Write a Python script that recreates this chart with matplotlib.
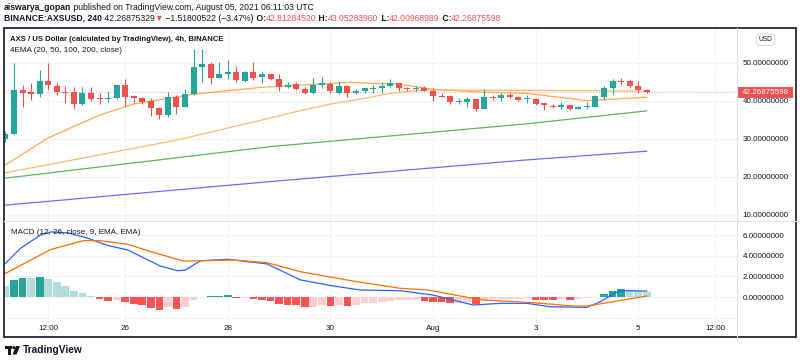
import numpy as np
import matplotlib
matplotlib.use('Agg')
import matplotlib.pyplot as plt
import matplotlib.transforms as mtransforms
from matplotlib.patches import Rectangle, Circle, Polygon

plt.rcParams['font.family'] = ['Liberation Sans', 'DejaVu Sans']

# 4h candles, 23 Jul 16:00 -> 5 Aug 04:00
opens = [30.0, 31.3, 42.8, 42.3, 41.8, 45.3, 44.0, 42.4, 42.3, 39.1,
         42.1, 40.8, 40.4, 40.9, 44.1, 41.3, 40.9, 40.1, 38.1, 36.3,
         41.1, 38.5, 41.8, 49.0, 49.7, 46.1, 47.0, 47.6, 45.3, 47.5,
         46.2, 47.1, 45.8, 43.6, 44.4, 43.2, 42.0, 44.2, 44.5, 42.2,
         43.9, 42.0, 42.6, 43.2, 43.5, 44.0, 44.7, 43.5, 43.2, 43.5,
         42.7, 41.4, 41.3, 39.7, 39.8, 40.5, 37.9, 41.1, 40.9, 41.6,
         41.1, 40.4, 40.4, 39.4, 38.8, 38.3, 38.9, 37.9, 38.5, 38.5,
         41.1, 43.5, 45.3, 45.3, 43.9, 42.81284520]
highs = [32.1, 49.9, 44.2, 44.7, 48.2, 49.9, 44.7, 43.9, 43.6, 43.6,
         43.6, 42.0, 42.7, 44.6, 45.7, 41.6, 41.1, 40.7, 38.5, 42.4,
         41.5, 43.1, 53.6, 53.6, 50.2, 50.3, 50.8, 49.2, 48.0, 50.3,
         47.5, 47.3, 47.1, 44.9, 44.9, 43.6, 46.0, 46.4, 45.0, 45.2,
         44.3, 43.1, 43.5, 44.3, 45.0, 45.9, 44.8, 43.6, 44.0, 44.0,
         43.3, 42.0, 41.6, 40.7, 41.1, 40.7, 43.1, 41.6, 42.2, 42.2,
         41.3, 41.5, 40.7, 39.6, 39.2, 39.7, 38.9, 38.6, 39.7, 41.6,
         44.0, 45.8, 46.1, 45.5, 45.3, 43.05283960]
lows = [29.2, 31.0, 38.5, 40.3, 41.1, 42.9, 41.6, 39.4, 37.8, 38.9,
        40.1, 39.1, 39.8, 40.4, 38.7, 39.4, 39.3, 36.1, 35.2, 35.9,
        36.5, 38.5, 41.6, 45.1, 44.4, 46.0, 45.7, 45.1, 45.0, 45.5,
        44.8, 45.5, 42.5, 43.5, 42.9, 41.8, 41.8, 43.3, 42.0, 41.8,
        41.1, 41.8, 42.0, 42.0, 42.0, 43.7, 42.5, 42.5, 42.5, 42.7,
        40.1, 41.0, 39.2, 39.3, 38.5, 37.4, 37.9, 40.2, 40.0, 40.8,
        40.1, 39.6, 39.0, 37.6, 38.2, 37.9, 37.5, 37.8, 37.9, 38.5,
        40.3, 41.8, 44.2, 43.5, 42.2, 42.00968989]
closes = [31.3, 42.9, 42.2, 41.8, 45.3, 44.1, 42.4, 42.1, 39.1, 42.0,
          40.6, 40.4, 40.9, 44.1, 41.1, 40.9, 39.8, 38.1, 36.3, 41.1,
          38.5, 41.8, 49.0, 49.7, 46.1, 47.1, 47.7, 45.5, 47.5, 46.1,
          47.1, 45.8, 43.8, 44.3, 43.1, 42.2, 44.2, 44.7, 42.5, 43.9,
          42.2, 42.6, 43.3, 43.5, 44.0, 44.7, 43.5, 43.2, 43.5, 42.7,
          41.3, 41.1, 39.8, 40.0, 40.6, 37.9, 41.1, 40.8, 41.6, 41.1,
          40.3, 40.7, 39.2, 38.9, 38.3, 38.9, 37.8, 38.5, 38.8, 41.3,
          43.3, 45.3, 45.0, 43.9, 42.9, 42.26875598]

# EMA lines (bar index, value)
ema20_idx = [0, 5, 11, 15, 22, 30, 40, 46, 50, 55, 61, 68, 75]
ema20_val = [23.2, 30.3, 36.3, 39.2, 41.8, 43.6, 44.9, 44.4, 43.1, 42.4, 42.0, 40.1, 41.0]
ema50_idx = [0, 20, 30, 34, 38, 42, 45, 49, 61, 75]
ema50_val = [21.1, 29.7, 35.0, 37.2, 39.2, 40.7, 42.0, 42.9, 42.8, 42.6]
ema100_idx = [0, 31, 61, 75]
ema100_val = [19.7, 28.0, 34.0, 37.4]
ema200_idx = [0, 31, 61, 75]
ema200_val = [12.6, 18.8, 24.5, 26.8]

# MACD
macd_idx = [0, 1.75, 4.1, 5.3, 7.3, 9.6, 11.9, 14.3, 18.1, 20.1, 21, 22.8, 26,
            30.6, 34.5, 38.4, 41.5, 46.2, 50, 54.7, 57.9, 61, 63.7, 68, 69.6,
            71.6, 72.7, 75]
macd_val = [3.26, 4.71, 6.0, 6.3, 6.2, 5.7, 5.0, 4.55, 3.0, 2.55, 2.6, 3.5, 3.65,
            3.2, 1.65, 1.06, 0.68, 0.61, 0.19, -0.77, -0.61, -0.61, -0.94, -1.0,
            -0.45, 0.52, 0.61, 0.58]
signal_idx = [0, 5.3, 9.1, 11.1, 14.3, 17, 20.8, 26.7, 30.6, 34.5, 40.4, 46.2,
              49.4, 53.2, 55.9, 61.8, 66.4, 68, 71.1, 75]
signal_val = [2.29, 4.6, 5.45, 5.45, 5.1, 4.39, 3.48, 3.58, 3.32, 2.45, 1.58, 0.84,
              0.68, 0.1, -0.29, -0.55, -0.87, -0.87, -0.45, 0.1]
hist = [1.03, 1.61, 1.87, 1.81, 1.97, 1.77, 1.45, 1.06, 0.58, 0.35,
        0.06, -0.19, -0.39, -0.32, -0.52, -0.65, -0.81, -1.06, -1.29, -0.97,
        -1.16, -0.97, -0.32, 0.05, 0.07, 0.14, 0.16, -0.10, -0.08, -0.23,
        -0.26, -0.42, -0.65, -0.74, -0.81, -0.97, -0.95, -0.81, -0.87, -0.80,
        -0.84, -0.74, -0.60, -0.55, -0.45, -0.39, -0.32, -0.31, -0.30, -0.39,
        -0.45, -0.52, -0.60, -0.55, -0.50, -0.71, -0.25, -0.22, -0.20, -0.18,
        -0.15, -0.13, -0.26, -0.27, -0.28, -0.20, -0.26, -0.15, -0.08, 0.03,
        0.32, 0.61, 0.74, 0.71, 0.61, 0.48]

time_pos = [5, 14, 26, 38, 50, 62, 74, 83]
time_labels = ['12:00', '26', '28', '30', 'Aug', '3', '5', '12:00']
price_ticks = [10, 20, 30, 40, 50]
macd_ticks = [-2, 0, 2, 4, 6]

UP, DOWN = '#26A69A', '#EF5350'
TXT = '#131722'
GRID = '#F0F3FA'

W, H = 800, 362
fig = plt.figure(figsize=(8, 3.62), dpi=100)


def frac(x0, y0, x1, y1):
    return [x0 / W, 1 - y1 / H, (x1 - x0) / W, (y1 - y0) / H]


ax = fig.add_axes(frac(4, 28, 737, 221))
ax2 = fig.add_axes(frac(4, 221, 737, 321), sharex=ax)

# candles
idx = np.arange(len(closes))
o, hi, lo, c = map(np.array, (opens, highs, lows, closes))
cols = np.where(c >= o, UP, DOWN)
ax.vlines(idx, lo, hi, colors=cols, lw=0.8, zorder=3)
ax.bar(idx, np.maximum(np.abs(c - o), 0.3), bottom=np.minimum(o, c), width=0.7,
       color=cols, lw=0, zorder=4)

ax.plot(ema20_idx, ema20_val, color='#FFA94D', lw=0.9, zorder=2)
ax.plot(ema50_idx, ema50_val, color='#FFB870', lw=0.9, zorder=2)
ax.plot(ema100_idx, ema100_val, color='#5DB461', lw=0.9, zorder=2)
ax.plot(ema200_idx, ema200_val, color='#6E6EF5', lw=0.9, zorder=2)
ax.axhline(closes[-1], color=DOWN, lw=0.8, ls=(0, (1, 1.5)), alpha=0.45, zorder=1)

ax.set_xlim(-0.175, 85.56)
ax.set_ylim(8.42, 59.21)
ax.yaxis.tick_right()
ax.set_yticks(price_ticks)
ax.set_yticklabels([f'{v:.8f}' for v in price_ticks])
ax.tick_params(axis='y', length=0, pad=4, labelsize=5.8, labelcolor=TXT)
ax.tick_params(axis='x', length=0, labelbottom=False)
ax.grid(True, color=GRID, lw=0.8)
for s in ax.spines.values():
    s.set_visible(False)

ax.text(0.0082, 0.938, 'AXS / US Dollar (calculated by TradingView), 4h, BINANCE',
        transform=ax.transAxes, fontsize=5.6, fontweight='bold', color=TXT, va='center')
ax.text(0.0082, 0.886, '4EMA (20, 50, 100, 200, close)', transform=ax.transAxes,
        fontsize=5.9, color=TXT, va='center')

# last price tag
bt = mtransforms.blended_transform_factory(ax.transAxes, ax.transData)
ax.add_patch(Rectangle((1.0, closes[-1] - 1.45), 56 / 733, 2.9, transform=bt,
                       clip_on=False, color=DOWN, lw=0, zorder=5))
ax.text(1.0 + 28 / 733, closes[-1], f'{closes[-1]:.8f}', transform=bt, color='white',
        fontsize=5.8, ha='center', va='center', zorder=6)
ax.text(1.039, 0.94, 'USD', transform=ax.transAxes, fontsize=4.8, color=TXT,
        ha='center', va='center',
        bbox=dict(boxstyle='round,pad=0.35,rounding_size=0.6', fc='white', ec='#D1D4DC', lw=0.6))

# MACD pane
hist_a = np.array(hist)
prev = np.concatenate([[hist_a[0]], hist_a[:-1]])
hcols = np.where(hist_a >= 0,
                 np.where(hist_a > prev, '#26A69A', '#B2DFDB'),
                 np.where(hist_a < prev, '#FF5252', '#FFCDD2'))
ax2.bar(idx, hist_a, width=0.9, color=hcols, lw=0, zorder=2)
ax2.plot(macd_idx, macd_val, color='#2962FF', lw=0.9, zorder=3)
ax2.plot(signal_idx, signal_val, color='#FF6D00', lw=0.9, zorder=3)
ax2.set_ylim(-2.32, 7.355)
ax2.yaxis.tick_right()
ax2.set_yticks(macd_ticks)
ax2.set_yticklabels(['' if v < 0 else f'{v:.8f}' for v in macd_ticks])
ax2.tick_params(axis='y', length=0, pad=4, labelsize=5.8, labelcolor=TXT)
ax2.set_xticks(time_pos)
ax2.set_xticklabels(time_labels)
ax2.tick_params(axis='x', length=0, pad=3, labelsize=5.8, labelcolor=TXT)
ax2.grid(True, color=GRID, lw=0.8)
for s in ax2.spines.values():
    s.set_visible(False)
ax2.text(0.0095, 0.88, 'MACD (12, 26, close, 9, EMA, EMA)', transform=ax2.transAxes,
         fontsize=5.8, color=TXT, va='center')

# frame, separators, logo
ov = fig.add_axes([0, 0, 1, 1], zorder=10)
ov.set_xlim(0, W)
ov.set_ylim(H, 0)
ov.axis('off')
ov.patch.set_alpha(0)
ov.plot([737, 737], [28, 337], color='#E0E3EB', lw=0.8)
ov.plot([4, 796], [221, 221], color='#E0E3EB', lw=0.8)
ov.add_patch(Rectangle((4, 28), 792, 309, fill=False, ec=TXT, lw=1.2))
ov.add_patch(Rectangle((4.5, 346), 7, 3, color=TXT, lw=0))
ov.add_patch(Rectangle((8, 346), 3, 8.5, color=TXT, lw=0))
ov.add_patch(Circle((13.8, 347.6), 1.6, color=TXT, lw=0))
ov.add_patch(Polygon([(16, 346), (20, 346), (16.5, 354.5), (12.5, 354.5)], color=TXT, lw=0))
ov.text(23, 350, 'TradingView', fontsize=7.3, fontweight='bold', color=TXT, va='center')

# header
renderer = fig.canvas.get_renderer()


def run_text(x, y, parts):
    for s, color, weight in parts:
        t = fig.text(x, y, s, color=color, fontweight=weight, fontsize=6.2, va='center')
        x = t.get_window_extent(renderer).x1 / fig.bbox.width


run_text(4 / W, 1 - 8 / H, [
    ('aiswarya_gopan', TXT, 'bold'),
    (' published on TradingView.com, August 05, 2021 06:11:03 UTC', TXT, 'normal')])
run_text(4 / W, 1 - 18.5 / H, [
    ('BINANCE:AXSUSD, 240', TXT, 'bold'),
    (' 42.26875329', TXT, 'normal'),
    ('\u25bc', DOWN, 'normal'),
    (' \u22121.51800522 (\u22123.47%)', TXT, 'normal'),
    (' O:', TXT, 'bold'), ('42.81284520', DOWN, 'normal'),
    (' H:', TXT, 'bold'), ('43.05283960', DOWN, 'normal'),
    (' L:', TXT, 'bold'), ('42.00968989', DOWN, 'normal'),
    (' C:', TXT, 'bold'), ('42.26875598', DOWN, 'normal')])

fig.savefig('out.png', dpi=100)
